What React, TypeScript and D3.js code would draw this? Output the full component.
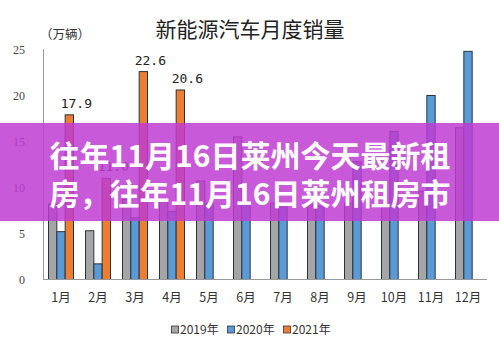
import React from "react";
import * as d3 from "d3";

const months = ["1月", "2月", "3月", "4月", "5月", "6月", "7月", "8月", "9月", "10月", "11月", "12月"];
const seriesNames = ["2019年", "2020年", "2021年"];
const sales2019 = [8.2, 5.3, 8.7, 8.5, 10.7, 15.5, 8.3, 8.1, 8.3, 7.9, 9.6, 16.5];
const sales2020 = [5.2, 1.7, 6.7, 7.4, 8.3, 8.3, 7.9, 8.0, 12.8, 16.1, 20.0, 24.8];
const sales2021: (number | null)[] = [17.9, 11.0, 22.6, 20.6, null, null, null, null, null, null, null, null];
const yTicks = [0, 5, 10, 15, 20, 25];
const colors = ["#a5a5a5", "#5b9bd5", "#ed7d31"];
const title = "新能源汽车月度销量";
const unit = "（万辆）";
const bannerLines = ["往年11月16日莱州今天最新租", "房，往年11月16日莱州租房市"];

const W = 499;
const H = 345;

export default function App() {
  const x = d3.scaleBand<string>().domain(months).range([42.5, 486.5]).padding(0);
  const inner = d3
    .scaleBand<string>()
    .domain(seriesNames)
    .range([6, x.bandwidth() - 6])
    .padding(0);
  const y = d3.scaleLinear().domain([0, 25]).range([279.5, 49.5]);
  const all = [sales2019, sales2020, sales2021];
  const serif = "'Liberation Serif', 'DejaVu Serif', serif";
  const mono = "'DejaVu Sans Mono', monospace";
  const cjk = "'Noto Sans CJK SC', sans-serif";

  return (
    <svg
      width={W}
      height={H}
      style={{ position: "absolute", left: 0, top: 0, background: "#fff" }}
    >
      <rect x={0} y={0} width={W} height={H} fill="#fff" />
      <text x={250} y={37} textAnchor="middle" fontFamily={cjk} fontSize={21} fill="#222">
        {title}
      </text>
      <text x={65} y={39} textAnchor="middle" fontFamily={cjk} fontSize={12.5} fill="#333">
        {unit}
      </text>
      {yTicks.map((t) => (
        <text
          key={t}
          x={25}
          y={y(t)}
          dy="0.35em"
          textAnchor="end"
          fontFamily={serif}
          fontSize={12}
          fill="#444"
        >
          {t}
        </text>
      ))}
      <line x1={43.5} x2={43.5} y1={49} y2={y(0)} stroke="#999" />
      {all.map((arr, si) =>
        arr.map((v, i) =>
          v == null ? null : (
            <rect
              key={`${si}-${i}`}
              x={(x(months[i]) as number) + (inner(seriesNames[si]) as number)}
              y={y(v)}
              width={inner.bandwidth()}
              height={y(0) - y(v)}
              fill={colors[si]}
              stroke="#2a3340"
              strokeWidth={1}
            />
          )
        )
      )}
      <line x1={43} x2={487} y1={y(0)} y2={y(0)} stroke="#999" />
      {sales2021.map((v, i) =>
        v == null ? null : (
          <text
            key={`l${i}`}
            x={(x(months[i]) as number) + (inner("2021年") as number) + inner.bandwidth() / 2 + 7}
            y={y(v) - 7}
            textAnchor="middle"
            fontFamily={mono}
            fontSize={13}
            fill="#222"
          >
            {v.toFixed(1)}
          </text>
        )
      )}
      {months.map((m) => (
        <text
          key={m}
          x={(x(m) as number) + x.bandwidth() / 2}
          y={302}
          textAnchor="middle"
          fontFamily={cjk}
          fontSize={12.5}
          fill="#333"
        >
          {m}
        </text>
      ))}
      {seriesNames.map((s, i) => (
        <g key={s} transform={`translate(${171 + i * 56},330)`}>
          <rect x={0.5} y={-4} width={7} height={7} fill={colors[i]} stroke="#333" strokeWidth={0.8} />
          <text x={9} y={0} dy="0.35em" fontFamily={cjk} fontSize={12} fill="#333">
            {s}
          </text>
        </g>
      ))}
      <rect x={0} y={123} width={W} height={98} fill="rgb(190,60,210)" opacity={0.85} />
      {bannerLines.map((t, i) => (
        <text
          key={i}
          x={250}
          y={167 + i * 38}
          textAnchor="middle"
          fontFamily={cjk}
          fontWeight={700}
          fontSize={30}
          fill="#fff"
        >
          {t}
        </text>
      ))}
    </svg>
  );
}
